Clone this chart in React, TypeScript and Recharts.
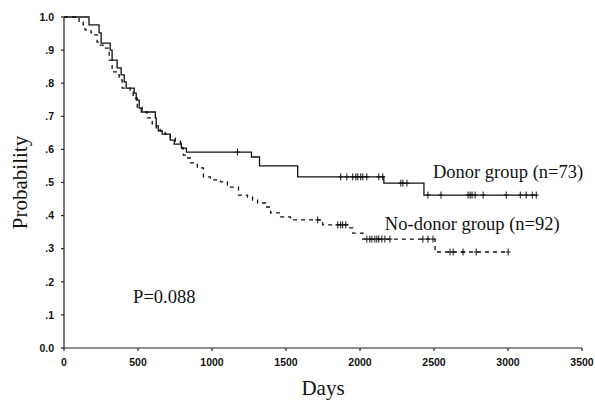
import { ComposedChart, Line, Scatter, XAxis, YAxis, ReferenceDot } from "recharts";

// Kaplan-Meier step events (day, survival after the step)
const donorDays = [169, 237, 251, 312, 325, 359, 386, 407, 420, 474, 488, 508, 522, 617, 623, 637, 664, 718, 745, 793, 827, 1267, 1321, 1579, 2161, 2432];
const donorProbs = [0.976, 0.952, 0.921, 0.9, 0.87, 0.846, 0.825, 0.804, 0.785, 0.77, 0.749, 0.725, 0.713, 0.695, 0.671, 0.656, 0.646, 0.628, 0.616, 0.604, 0.592, 0.577, 0.55, 0.517, 0.498, 0.462];
const donorCensored = [1172, 1870, 1911, 1951, 1972, 1985, 2005, 2019, 2046, 2127, 2154, 2276, 2290, 2317, 2459, 2547, 2730, 2744, 2757, 2778, 2832, 2988, 3083, 3123, 3164, 3191];
const donorEnd = 3195;

const noDonorDays = [102, 129, 142, 183, 196, 224, 244, 264, 305, 325, 359, 373, 393, 447, 467, 495, 528, 562, 596, 623, 650, 684, 718, 752, 786, 799, 806, 827, 854, 901, 942, 989, 1057, 1104, 1179, 1240, 1274, 1308, 1362, 1396, 1463, 1531, 1748, 1917, 1951, 2019, 2507];
const noDonorProbs = [0.985, 0.976, 0.961, 0.952, 0.946, 0.924, 0.915, 0.906, 0.87, 0.834, 0.825, 0.81, 0.785, 0.773, 0.755, 0.728, 0.713, 0.695, 0.677, 0.665, 0.656, 0.646, 0.634, 0.625, 0.619, 0.604, 0.583, 0.574, 0.559, 0.544, 0.517, 0.508, 0.502, 0.486, 0.462, 0.456, 0.447, 0.438, 0.426, 0.408, 0.396, 0.387, 0.372, 0.363, 0.347, 0.329, 0.29];
const noDonorCensored = [1714, 1850, 1870, 1883, 1904, 2046, 2066, 2080, 2100, 2114, 2127, 2148, 2168, 2202, 2425, 2459, 2493, 2608, 2629, 2696, 2785, 3001];
const noDonorEnd = 3001;

const xTicks = [0, 500, 1000, 1500, 2000, 2500, 3000, 3500];
const yTicks = [0, 0.1, 0.2, 0.3, 0.4, 0.5, 0.6, 0.7, 0.8, 0.9, 1.0];

const stepValue = (days: number[], probs: number[], t: number) => {
  let p = 1;
  for (let i = 0; i < days.length; i++) if (days[i] <= t) p = probs[i];
  return p;
};

const buildCurve = (days: number[], probs: number[], end: number) => {
  const pts = [{ day: 0, p: 1 }];
  days.forEach((d, i) => pts.push({ day: d, p: probs[i] }));
  pts.push({ day: end, p: probs[probs.length - 1] });
  return pts;
};

const buildCensors = (days: number[], probs: number[], censored: number[]) =>
  censored.map((d) => ({ day: d, p: stepValue(days, probs, d) }));

const donorCurve = buildCurve(donorDays, donorProbs, donorEnd);
const noDonorCurve = buildCurve(noDonorDays, noDonorProbs, noDonorEnd);
const donorMarks = buildCensors(donorDays, donorProbs, donorCensored);
const noDonorMarks = buildCensors(noDonorDays, noDonorProbs, noDonorCensored);

const SERIF = "'Liberation Serif', 'Times New Roman', serif";
const SANS = "'Liberation Sans', Arial, sans-serif";

const Plus = (props: any) => {
  const { cx, cy } = props;
  if (cx == null || cy == null) return null;
  return (
    <g stroke="#111" strokeWidth={1}>
      <line x1={cx} x2={cx} y1={cy - 3.5} y2={cy + 3.5} />
      <line x1={cx - 2.5} x2={cx + 2.5} y1={cy} y2={cy} />
    </g>
  );
};

const textLabel = (value: string) => (props: any) => {
  const { x, y } = props.viewBox;
  return (
    <text x={x} y={y} fontFamily={SERIF} fontSize={18.5} fill="#111">
      {value}
    </text>
  );
};

const fmtY = (v: number) => (v === 0 ? "0.0" : v === 1 ? "1.0" : "." + Math.round(v * 10));

export default function App() {
  return (
    <div style={{ position: "absolute", left: 0, top: 0, background: "#fff" }}>
      <ComposedChart width={595} height={400} margin={{ top: 17, right: 13, bottom: 0, left: 0 }}>
        <XAxis
          type="number"
          dataKey="day"
          domain={[0, 3500]}
          ticks={xTicks}
          allowDataOverflow
          height={52}
          tickSize={3}
          tickMargin={8}
          stroke="#222"
          strokeWidth={1.2}
          tick={{ fontFamily: SANS, fontSize: 10.5, fontWeight: "bold", fill: "#111" }}
          label={{
            content: (props: any) => {
              const { x, y, width } = props.viewBox;
              return (
                <text x={x + width / 2} y={y + 47} textAnchor="middle" fontFamily={SERIF} fontSize={21} fill="#111">
                  Days
                </text>
              );
            },
          }}
        />
        <YAxis
          type="number"
          dataKey="p"
          domain={[0, 1]}
          ticks={yTicks}
          width={64}
          tickSize={3}
          tickMargin={7}
          tickFormatter={fmtY}
          stroke="#222"
          strokeWidth={1.2}
          tick={{ fontFamily: SANS, fontSize: 10.5, fontWeight: "bold", fill: "#111" }}
          label={{
            content: (props: any) => {
              const { x, y, height } = props.viewBox;
              const cx = x + 20;
              const cy = y + height / 2;
              return (
                <text
                  x={cx}
                  y={cy}
                  transform={`rotate(-90, ${cx}, ${cy})`}
                  textAnchor="middle"
                  dominantBaseline="central"
                  fontFamily={SERIF}
                  fontSize={21}
                  fill="#111"
                >
                  Probability
                </text>
              );
            },
          }}
        />
        <Line
          data={donorCurve}
          dataKey="p"
          type="stepAfter"
          stroke="#111"
          strokeWidth={1.3}
          dot={false}
          activeDot={false}
          isAnimationActive={false}
        />
        <Line
          data={noDonorCurve}
          dataKey="p"
          type="stepAfter"
          stroke="#111"
          strokeWidth={1.3}
          strokeDasharray="4 4"
          dot={false}
          activeDot={false}
          isAnimationActive={false}
        />
        <Scatter data={donorMarks} dataKey="p" shape={Plus} isAnimationActive={false} />
        <Scatter data={noDonorMarks} dataKey="p" shape={Plus} isAnimationActive={false} />
        <ReferenceDot x={2493} y={0.514} r={0} fill="none" stroke="none" ifOverflow="visible" label={{ content: textLabel("Donor group (n=73)") }} />
        <ReferenceDot x={2168} y={0.356} r={0} fill="none" stroke="none" ifOverflow="visible" label={{ content: textLabel("No-donor group (n=92)") }} />
        <ReferenceDot x={467} y={0.136} r={0} fill="none" stroke="none" ifOverflow="visible" label={{ content: textLabel("P=0.088") }} />
      </ComposedChart>
    </div>
  );
}
